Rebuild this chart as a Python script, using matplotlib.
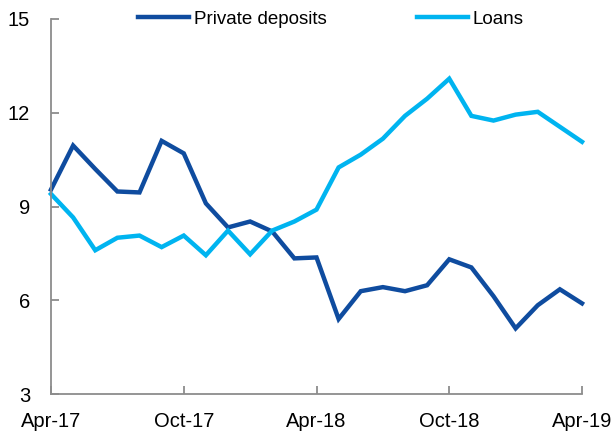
import matplotlib
matplotlib.use("Agg")
import matplotlib.pyplot as plt

plt.rcParams['font.family'] = ['Liberation Sans', 'DejaVu Sans']

months = ["Apr-17", "May-17", "Jun-17", "Jul-17", "Aug-17", "Sep-17", "Oct-17",
          "Nov-17", "Dec-17", "Jan-18", "Feb-18", "Mar-18", "Apr-18", "May-18",
          "Jun-18", "Jul-18", "Aug-18", "Sep-18", "Oct-18", "Nov-18", "Dec-18",
          "Jan-19", "Feb-19", "Mar-19", "Apr-19"]

private_deposits = [9.54, 10.95, 10.2, 9.48, 9.45, 11.1, 10.7, 9.1, 8.33, 8.52,
                    8.2, 7.34, 7.37, 5.4, 6.29, 6.42, 6.29, 6.48, 7.31, 7.05,
                    6.13, 5.1, 5.84, 6.35, 5.9]

loans = [9.4, 8.65, 7.6, 8.0, 8.07, 7.7, 8.07, 7.44, 8.23, 7.47, 8.23, 8.52,
         8.9, 10.25, 10.66, 11.17, 11.9, 12.45, 13.09, 11.9, 11.75, 11.94,
         12.03, 11.55, 11.07]

tick_labels = ["Apr-17", "Oct-17", "Apr-18", "Oct-18", "Apr-19"]
y_ticks = [3, 6, 9, 12, 15]

fig = plt.figure(figsize=(6.15, 4.34), dpi=100)
ax = fig.add_axes([51 / 615, 1 - 394 / 434, 531 / 615, 375 / 434])

x = list(range(len(months)))
ax.plot(x, private_deposits, color="#0F4C9F", lw=3.2, label="Private deposits",
        solid_joinstyle="miter", clip_on=False)
ax.plot(x, loans, color="#00B4F0", lw=3.2, label="Loans",
        solid_joinstyle="miter", clip_on=False)

ax.set_xlim(0, len(months) - 1)
ax.set_ylim(3, 15)
ax.set_xticks([months.index(m) for m in tick_labels])
ax.set_xticklabels(tick_labels)
ax.set_yticks(y_ticks)

for side in ["top", "right"]:
    ax.spines[side].set_visible(False)
for side in ["left", "bottom"]:
    ax.spines[side].set_color("#8c8c8c")
    ax.spines[side].set_linewidth(1.3)

ax.tick_params(axis="both", direction="in", length=6, width=1.3, color="#8c8c8c",
               labelsize=14.5, labelcolor="black")
ax.tick_params(axis="x", pad=13)
ax.tick_params(axis="y", pad=15)

ax.legend(loc="center", bbox_to_anchor=(0.527, 1.0), ncol=2, frameon=False,
          fontsize=13.5, handlelength=2.75, handletextpad=0.25,
          columnspacing=4.8, borderaxespad=0)

fig.savefig("out.png", dpi=100)
